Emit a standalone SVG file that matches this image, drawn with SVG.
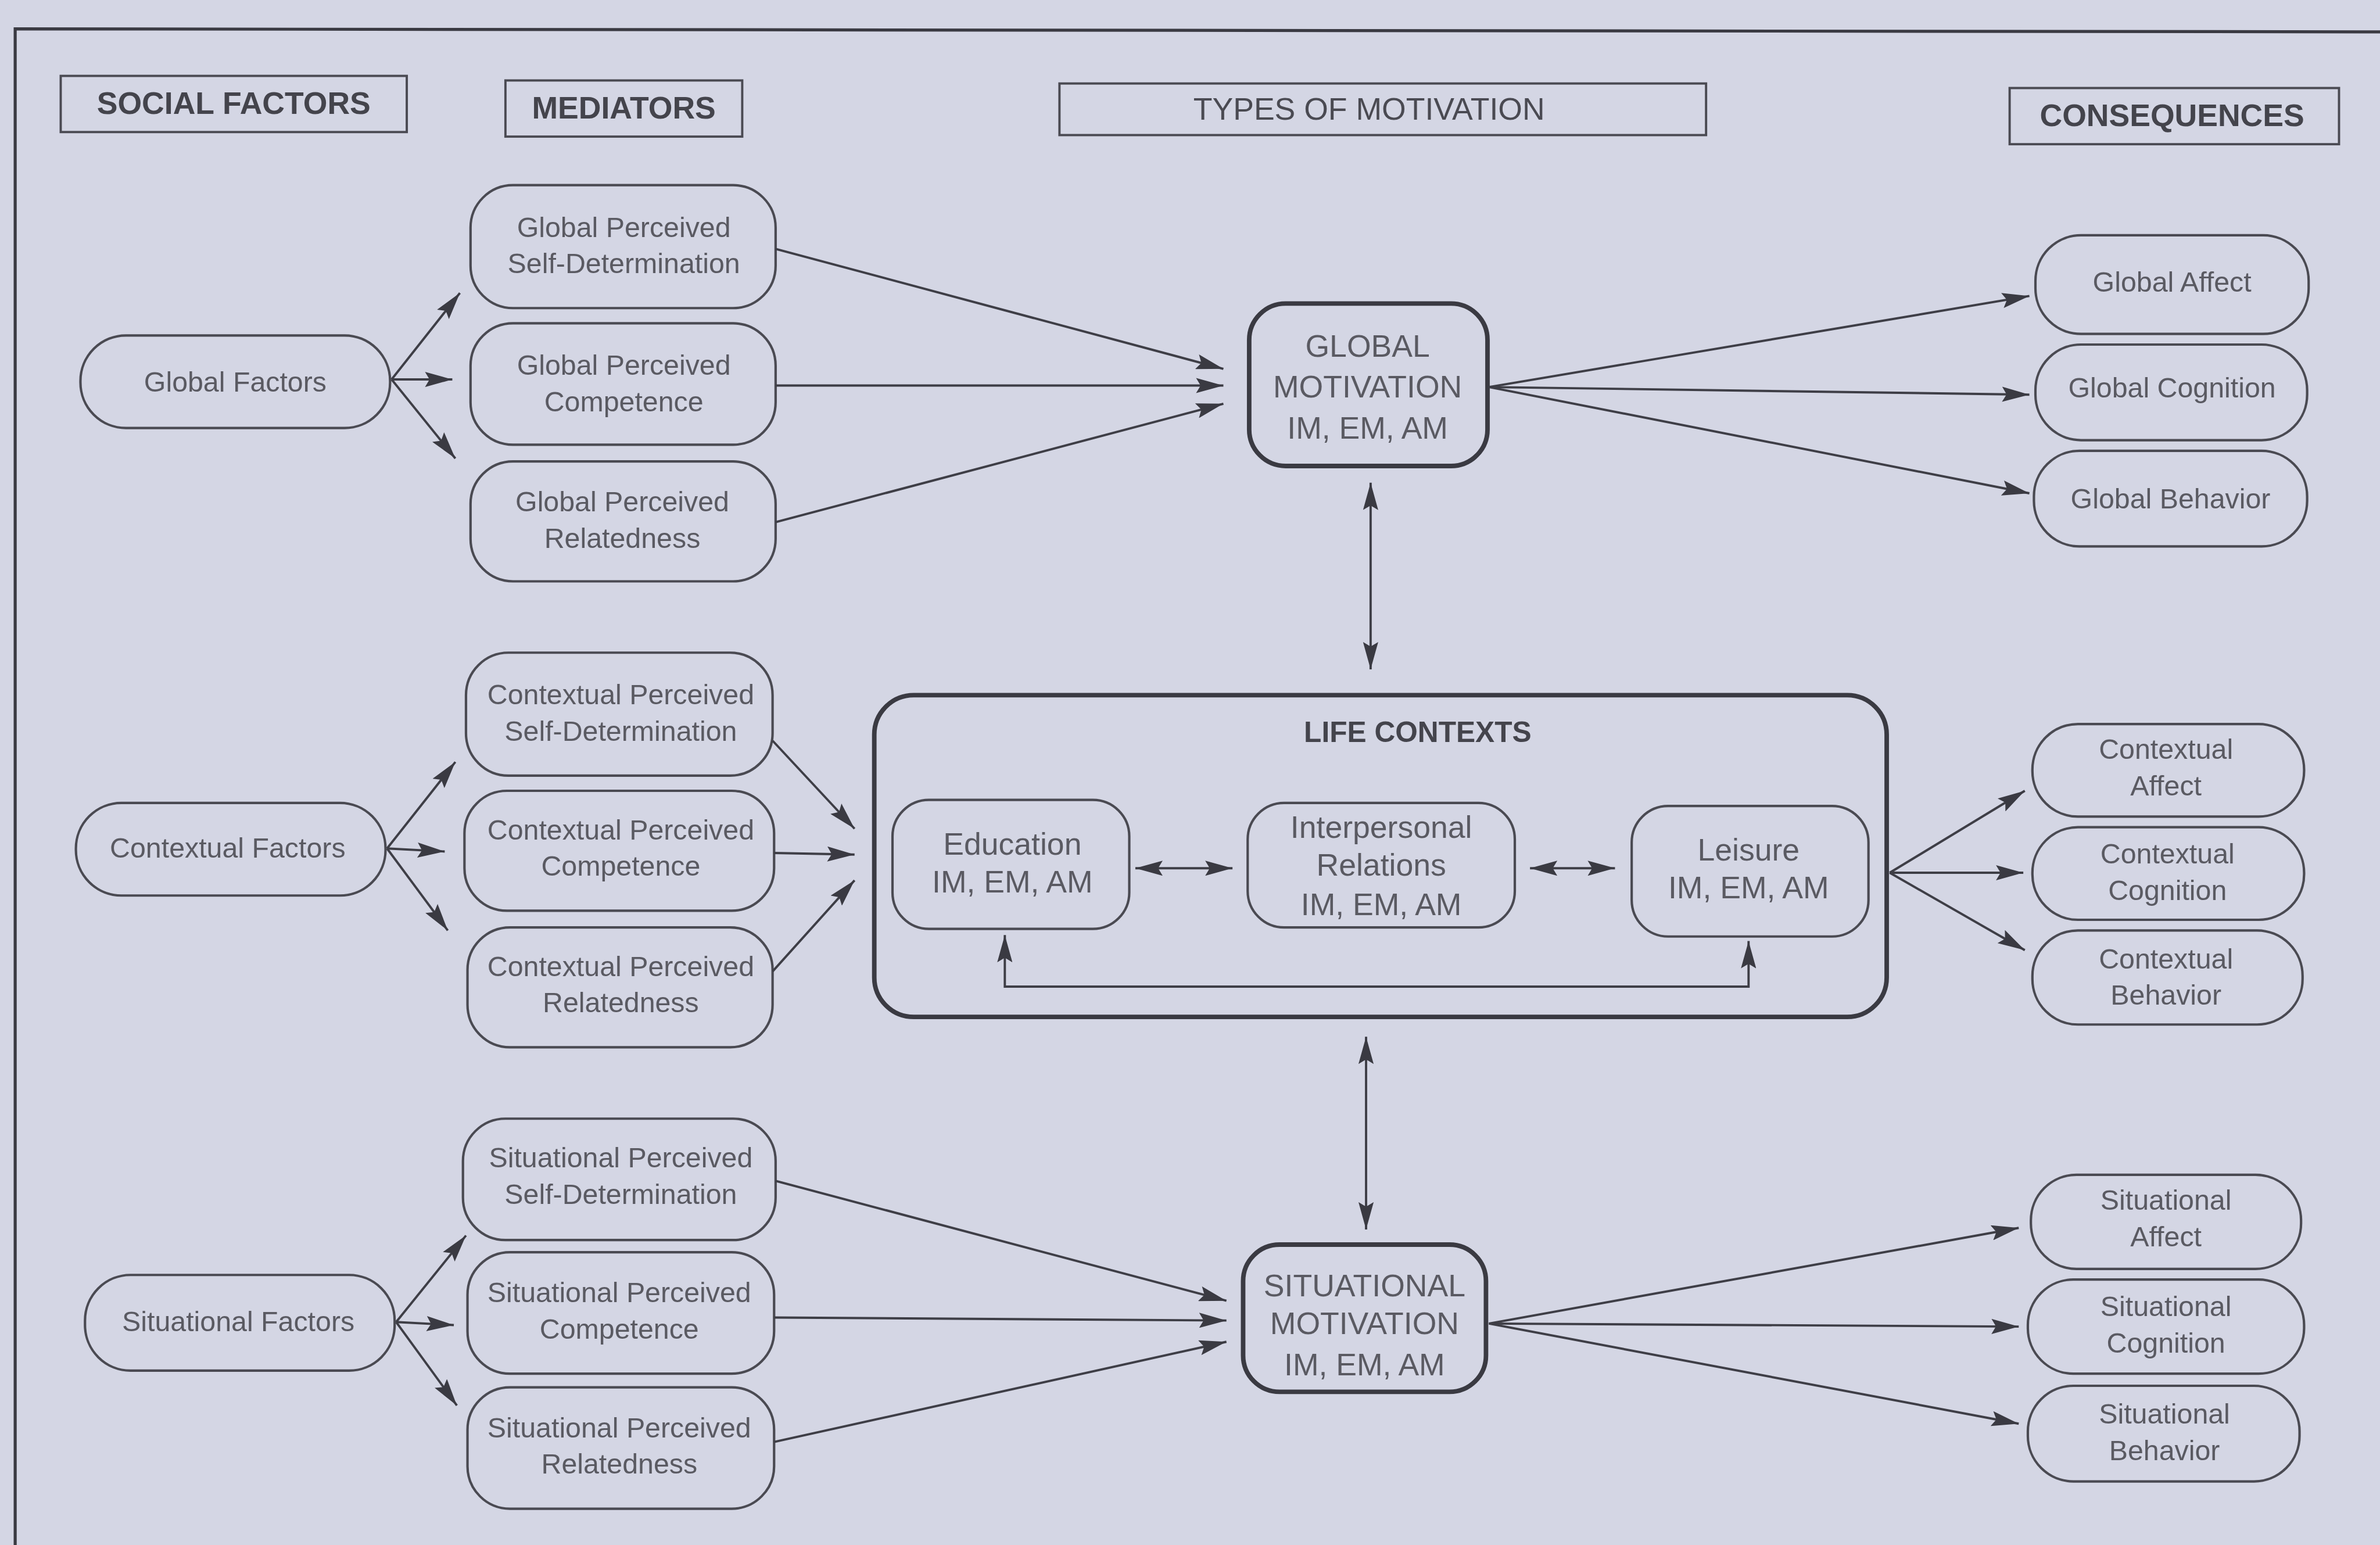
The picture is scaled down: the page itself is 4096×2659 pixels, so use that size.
<svg xmlns="http://www.w3.org/2000/svg" width="4096" height="2659" viewBox="0 0 4096 2659">
  <defs>
    <style>
      .bg { fill: #d4d6e4; }
      .frame { fill: none; stroke: #3a3a42; stroke-width: 2; }
      .hdr { fill: none; stroke: #4a4a52; stroke-width: 1.5; }
      .hdr-t { font-family: "Liberation Sans", Arial, sans-serif; font-weight: bold; font-size: 20.5px; fill: #44444c; text-anchor: middle; }
      .node { fill: none; stroke: #4a4a52; stroke-width: 1.6; }
      .node-t { font-family: "Liberation Sans", Arial, sans-serif; font-size: 18.5px; fill: #5a5a62; text-anchor: middle; }
      .mot { fill: none; stroke: #3a3a42; stroke-width: 3; }
      .mot-t { font-family: "Liberation Sans", Arial, sans-serif; font-size: 20.5px; fill: #5a5a62; text-anchor: middle; }
      .lc-t { font-family: "Liberation Sans", Arial, sans-serif; font-weight: bold; font-size: 19px; fill: #44444c; text-anchor: middle; }
      .edge { fill: none; stroke: #3e3e46; stroke-width: 1.5; marker-end: url(#ah); }
      .edge2 { fill: none; stroke: #3e3e46; stroke-width: 1.5; marker-start: url(#ah); marker-end: url(#ah); }
    </style>
    <marker id="ah" viewBox="0 0 18 10" markerWidth="18" markerHeight="10" refX="18" refY="5" orient="auto-start-reverse" markerUnits="userSpaceOnUse">
      <path d="M0,0 L18,5 L0,10 L3,5 Z" fill="#3a3a42"/>
    </marker>
  </defs>

  <rect class="bg" x="0" y="0" width="4096" height="2659"/>

  <g transform="scale(2.61224)">
    <!-- page frame: left and top rules -->
    <path class="frame" d="M10,1020 L10,19 L1570,21"/>

    <!-- column headers -->
    <g id="hdr-social">
      <rect class="hdr" x="40" y="50" width="228" height="37"/>
      <text class="hdr-t" x="154" y="75">SOCIAL FACTORS</text>
    </g>
    <g id="hdr-mediators">
      <rect class="hdr" x="333" y="53" width="156" height="37"/>
      <text class="hdr-t" x="411" y="78">MEDIATORS</text>
    </g>
    <g id="hdr-types">
      <rect class="hdr" x="698" y="55" width="426" height="34"/>
      <text class="hdr-t" x="902" y="79" style="font-weight:normal;fill:#4a4a52">TYPES OF MOTIVATION</text>
    </g>
    <g id="hdr-consequences">
      <rect class="hdr" x="1324" y="58" width="217" height="37"/>
      <text class="hdr-t" x="1431" y="83">CONSEQUENCES</text>
    </g>

    <!-- social factors -->
    <g id="global-factors">
      <rect class="node" x="53" y="221" width="204" height="61" rx="30"/>
      <text class="node-t" x="155" y="258">Global Factors</text>
    </g>
    <g id="contextual-factors">
      <rect class="node" x="50" y="529" width="204" height="61" rx="30"/>
      <text class="node-t" x="150" y="565">Contextual Factors</text>
    </g>
    <g id="situational-factors">
      <rect class="node" x="56" y="840" width="204" height="63" rx="30"/>
      <text class="node-t" x="157" y="877">Situational Factors</text>
    </g>

    <!-- mediators -->
    <g id="global-psd">
      <rect class="node" x="310" y="122" width="201" height="81" rx="28"/>
      <text class="node-t" x="411" y="156">Global Perceived</text>
      <text class="node-t" x="411" y="180">Self-Determination</text>
    </g>
    <g id="global-pc">
      <rect class="node" x="310" y="213" width="201" height="80" rx="28"/>
      <text class="node-t" x="411" y="247">Global Perceived</text>
      <text class="node-t" x="411" y="271">Competence</text>
    </g>
    <g id="global-pr">
      <rect class="node" x="310" y="304" width="201" height="79" rx="28"/>
      <text class="node-t" x="410" y="337">Global Perceived</text>
      <text class="node-t" x="410" y="361">Relatedness</text>
    </g>
    <g id="contextual-psd">
      <rect class="node" x="307" y="430" width="202" height="81" rx="28"/>
      <text class="node-t" x="409" y="464">Contextual Perceived</text>
      <text class="node-t" x="409" y="488">Self-Determination</text>
    </g>
    <g id="contextual-pc">
      <rect class="node" x="306" y="521" width="204" height="79" rx="28"/>
      <text class="node-t" x="409" y="553">Contextual Perceived</text>
      <text class="node-t" x="409" y="577">Competence</text>
    </g>
    <g id="contextual-pr">
      <rect class="node" x="308" y="611" width="201" height="79" rx="28"/>
      <text class="node-t" x="409" y="643">Contextual Perceived</text>
      <text class="node-t" x="409" y="667">Relatedness</text>
    </g>
    <g id="situational-psd">
      <rect class="node" x="305" y="737" width="206" height="80" rx="28"/>
      <text class="node-t" x="409" y="769">Situational Perceived</text>
      <text class="node-t" x="409" y="793">Self-Determination</text>
    </g>
    <g id="situational-pc">
      <rect class="node" x="308" y="825" width="202" height="80" rx="28"/>
      <text class="node-t" x="408" y="858">Situational Perceived</text>
      <text class="node-t" x="408" y="882">Competence</text>
    </g>
    <g id="situational-pr">
      <rect class="node" x="308" y="914" width="202" height="80" rx="28"/>
      <text class="node-t" x="408" y="947">Situational Perceived</text>
      <text class="node-t" x="408" y="971">Relatedness</text>
    </g>

    <!-- types of motivation -->
    <g id="global-motivation">
      <rect class="mot" x="823" y="200" width="157" height="107" rx="24"/>
      <text class="mot-t" x="901" y="235">GLOBAL</text>
      <text class="mot-t" x="901" y="262">MOTIVATION</text>
      <text class="mot-t" x="901" y="289">IM, EM, AM</text>
    </g>

    <g id="life-contexts">
      <rect class="mot" x="576" y="458" width="667" height="212" rx="26"/>
      <text class="lc-t" x="934" y="489">LIFE CONTEXTS</text>
    </g>
    <g id="education">
      <rect class="node" x="588" y="527" width="156" height="85" rx="24"/>
      <text class="mot-t" x="667" y="563">Education</text>
      <text class="mot-t" x="667" y="588">IM, EM, AM</text>
    </g>
    <g id="interpersonal">
      <rect class="node" x="822" y="529" width="176" height="82" rx="24"/>
      <text class="mot-t" x="910" y="552">Interpersonal</text>
      <text class="mot-t" x="910" y="577">Relations</text>
      <text class="mot-t" x="910" y="603">IM, EM, AM</text>
    </g>
    <g id="leisure">
      <rect class="node" x="1075" y="531" width="156" height="86" rx="24"/>
      <text class="mot-t" x="1152" y="567">Leisure</text>
      <text class="mot-t" x="1152" y="592">IM, EM, AM</text>
    </g>

    <g id="situational-motivation">
      <rect class="mot" x="819" y="820" width="160" height="97" rx="24"/>
      <text class="mot-t" x="899" y="854">SITUATIONAL</text>
      <text class="mot-t" x="899" y="879">MOTIVATION</text>
      <text class="mot-t" x="899" y="906">IM, EM, AM</text>
    </g>

    <!-- consequences -->
    <g id="global-affect">
      <rect class="node" x="1341" y="155" width="180" height="65" rx="30"/>
      <text class="node-t" x="1431" y="192">Global Affect</text>
    </g>
    <g id="global-cognition">
      <rect class="node" x="1341" y="227" width="179" height="63" rx="30"/>
      <text class="node-t" x="1431" y="262">Global Cognition</text>
    </g>
    <g id="global-behavior">
      <rect class="node" x="1340" y="297" width="180" height="63" rx="30"/>
      <text class="node-t" x="1430" y="335">Global Behavior</text>
    </g>
    <g id="contextual-affect">
      <rect class="node" x="1339" y="477" width="179" height="61" rx="30"/>
      <text class="node-t" x="1427" y="500">Contextual</text>
      <text class="node-t" x="1427" y="524">Affect</text>
    </g>
    <g id="contextual-cognition">
      <rect class="node" x="1339" y="545" width="179" height="61" rx="30"/>
      <text class="node-t" x="1428" y="569">Contextual</text>
      <text class="node-t" x="1428" y="593">Cognition</text>
    </g>
    <g id="contextual-behavior">
      <rect class="node" x="1339" y="613" width="178" height="62" rx="30"/>
      <text class="node-t" x="1427" y="638">Contextual</text>
      <text class="node-t" x="1427" y="662">Behavior</text>
    </g>
    <g id="situational-affect">
      <rect class="node" x="1338" y="774" width="178" height="62" rx="30"/>
      <text class="node-t" x="1427" y="797">Situational</text>
      <text class="node-t" x="1427" y="821">Affect</text>
    </g>
    <g id="situational-cognition">
      <rect class="node" x="1336" y="843" width="182" height="62" rx="30"/>
      <text class="node-t" x="1427" y="867">Situational</text>
      <text class="node-t" x="1427" y="891">Cognition</text>
    </g>
    <g id="situational-behavior">
      <rect class="node" x="1336" y="913" width="179" height="63" rx="30"/>
      <text class="node-t" x="1426" y="938">Situational</text>
      <text class="node-t" x="1426" y="962">Behavior</text>
    </g>

    <!-- connectors -->
    <g id="connectors">
      <!-- social factors to mediators -->
      <line class="edge" x1="258" y1="250" x2="303" y2="193"/>
      <line class="edge" x1="258" y1="250" x2="298" y2="250"/>
      <line class="edge" x1="258" y1="250" x2="300" y2="302"/>
      <line class="edge" x1="255" y1="559" x2="300" y2="502"/>
      <line class="edge" x1="255" y1="559" x2="293" y2="561"/>
      <line class="edge" x1="255" y1="559" x2="295" y2="613"/>
      <line class="edge" x1="261" y1="871" x2="307" y2="814"/>
      <line class="edge" x1="261" y1="871" x2="299" y2="873"/>
      <line class="edge" x1="261" y1="871" x2="301" y2="926"/>

      <!-- mediators to motivation -->
      <line class="edge" x1="511" y1="164" x2="806" y2="243"/>
      <line class="edge" x1="511" y1="254" x2="806" y2="254"/>
      <line class="edge" x1="511" y1="344" x2="806" y2="266"/>
      <line class="edge" x1="509" y1="488" x2="563" y2="546"/>
      <line class="edge" x1="510" y1="562" x2="563" y2="563"/>
      <line class="edge" x1="509" y1="640" x2="563" y2="580"/>
      <line class="edge" x1="511" y1="778" x2="808" y2="857"/>
      <line class="edge" x1="510" y1="868" x2="808" y2="870"/>
      <line class="edge" x1="510" y1="950" x2="808" y2="884"/>

      <!-- motivation to consequences -->
      <line class="edge" x1="981" y1="255" x2="1337" y2="195"/>
      <line class="edge" x1="981" y1="255" x2="1337" y2="260"/>
      <line class="edge" x1="981" y1="255" x2="1337" y2="325"/>
      <line class="edge" x1="1245" y1="575" x2="1334" y2="521"/>
      <line class="edge" x1="1245" y1="575" x2="1333" y2="575"/>
      <line class="edge" x1="1245" y1="575" x2="1334" y2="626"/>
      <line class="edge" x1="981" y1="872" x2="1330" y2="809"/>
      <line class="edge" x1="981" y1="872" x2="1330" y2="874"/>
      <line class="edge" x1="981" y1="872" x2="1330" y2="938"/>

      <!-- links between levels -->
      <line class="edge2" x1="903" y1="318" x2="903" y2="441"/>
      <line class="edge2" x1="900" y1="683" x2="900" y2="810"/>

      <!-- links between life contexts -->
      <line class="edge2" x1="748" y1="572" x2="812" y2="572"/>
      <line class="edge2" x1="1008" y1="572" x2="1064" y2="572"/>
      <path class="edge2" d="M662,616 L662,650 L1152,650 L1152,620"/>
    </g>
  </g>
</svg>
